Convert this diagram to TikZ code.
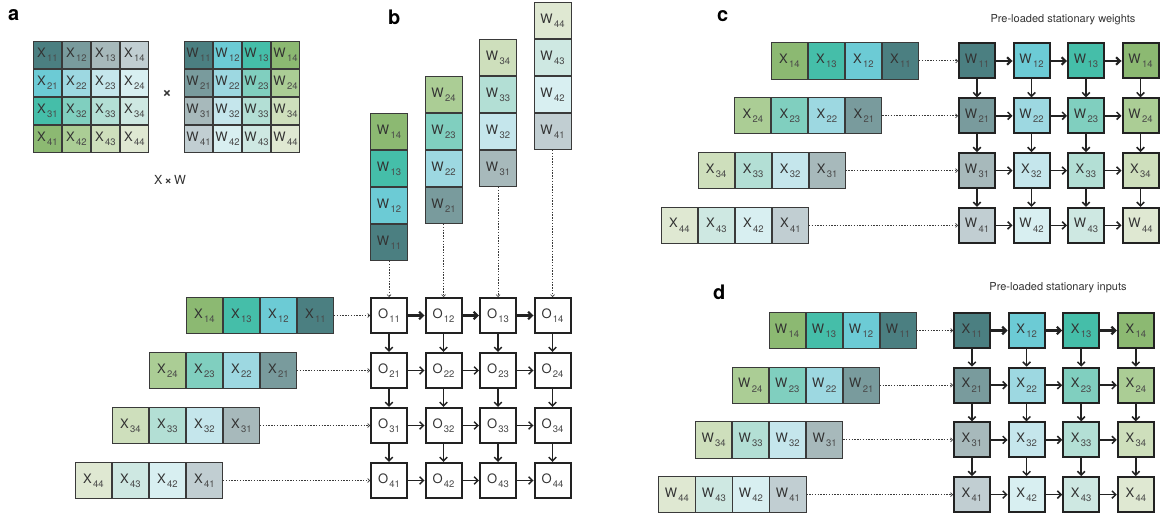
\documentclass[tikz,border=0pt]{standalone}
\usepackage{fontspec}
\setmainfont{TeX Gyre Heros}
\usetikzlibrary{arrows.meta}
% palette: c<hue><shade>, hue 1 slate, 2 cyan, 3 teal, 4 green; shade 1 strong .. 4 pale
\definecolor{c11}{HTML}{4B7F81}\definecolor{c12}{HTML}{799B9D}\definecolor{c13}{HTML}{A7B9BB}\definecolor{c14}{HTML}{C1CED2}
\definecolor{c21}{HTML}{6CCBD5}\definecolor{c22}{HTML}{9DD8E1}\definecolor{c23}{HTML}{C5E6EC}\definecolor{c24}{HTML}{D8EFF1}
\definecolor{c31}{HTML}{45BEA9}\definecolor{c32}{HTML}{80CFBF}\definecolor{c33}{HTML}{B3DFD5}\definecolor{c34}{HTML}{CEE8E2}
\definecolor{c41}{HTML}{8CB972}\definecolor{c42}{HTML}{ABCD95}\definecolor{c43}{HTML}{CEDFBC}\definecolor{c44}{HTML}{DFE8D2}
\definecolor{txt}{HTML}{333333}
\definecolor{subc}{HTML}{4A4A4A}
\definecolor{edge}{HTML}{3A3A3A}
\definecolor{pedge}{HTML}{222222}
\definecolor{dotc}{HTML}{3A3A3A}
\newcommand\lbl[2]{#1\kern1.3pt\raisebox{-4.3pt}{\fontsize{9.5}{10}\selectfont\color{subc}#2}}
\tikzset{
  cellfont/.style={font=\fontsize{13}{14}\selectfont, text=txt},
  mcell/.style={draw=edge, line width=0.9pt, minimum width=28.1pt, minimum height=27.1pt, inner sep=0pt, cellfont},
  scell/.style={draw=edge, line width=0.9pt, minimum width=36.1pt, minimum height=36.1pt, inner sep=0pt, cellfont},
  wcell/.style={draw=edge, line width=0.9pt, minimum width=37.1pt, minimum height=36.1pt, inner sep=0pt, cellfont},
  pe/.style={draw=pedge, line width=2pt, minimum width=36pt, minimum height=35pt, inner sep=0pt, cellfont},
  feed/.style={dash pattern=on 1.4pt off 1.4pt, line width=1pt, draw=dotc,
    -{Straight Barb[length=2pt,width=4pt,line width=0.7pt]}},
  flow/.style={line width=1.5pt, draw=pedge, -{Straight Barb[length=3.8pt,width=7.5pt]}},
  flowbold/.style={flow, line width=2.2pt},
  panel/.style={font=\fontsize{20}{20}\selectfont\bfseries, inner sep=0pt, anchor=base west},
  caption/.style={font=\fontsize{11}{12}\selectfont, text=txt, inner sep=0pt, anchor=base},
}
\begin{document}
\begin{tikzpicture}[x=1pt,y=-1pt]
\fill[white] (0,0) rectangle (1163,519);
\useasboundingbox (0,0) rectangle (1163,519);

% ---------- a: the two matrices ----------
\node[panel] (la) at (8,21) {a};
\foreach \i in {1,...,4}{
  \foreach \j in {1,...,4}{
    \node[mcell, fill=c\i\j] (ax\i\j) at ({47.5+29*(\j-1)},{55+28*(\i-1)}) {\lbl{X}{\i\j}};
    \node[mcell, fill=c\j\i] (aw\i\j) at ({198.5+29*(\j-1)},{55+28*(\i-1)}) {\lbl{W}{\i\j}};
  }
}
\node[font=\fontsize{16}{16}\selectfont\bfseries, text=txt, inner sep=0pt] (times) at (167,94) {×};
\node[font=\fontsize{12.5}{13}\selectfont, text=txt, inner sep=0pt] (prod) at (170,180) {X\,\textbf{×}\,W};

% ---------- b: output-stationary array ----------
\node[panel] (lb) at (388,25) {b};
\foreach \k in {1,...,4}{
  \foreach \m in {1,...,4}{
    \node[wcell, fill=c\m\k] (bw\k\m) at ({389+54.5*(\k-1)},{261-37*(\m-0.5)-37*(\k-1)}) {\lbl{W}{\k\m}};
  }
}
\foreach \r in {1,...,4}{
  \foreach \c in {1,...,4}{
    \node[pe, fill=white] (o\r\c) at ({389+54.5*(\c-1)},{315.5+55*(\r-1)}) {\lbl{O}{\r\c}};
  }
  \foreach \j in {1,...,4}{
    \node[scell, fill=c\j\r] (bx\r\j) at ({334-37*(\r-1)-18.5-37*(\j-1)},{315.5+55*(\r-1)}) {\lbl{X}{\r\j}};
  }
}
\foreach \r in {1,...,4}{ \draw[feed] (bx\r1.east) -- (o\r1.west); }
\foreach \k in {1,...,4}{ \draw[feed] (bw\k1.south) -- (o1\k.north); }
\foreach \r in {1,...,4}{
  \foreach \c/\n in {1/2,2/3,3/4}{
    \ifnum\r=1 \draw[flowbold] (o\r\c.east) -- (o\r\n.west);
    \else \draw[flow] (o\r\c.east) -- (o\r\n.west); \fi
  }
}
\foreach \r/\n in {1/2,2/3,3/4}{
  \foreach \c in {1,...,4}{ \draw[flow] (o\r\c.south) -- (o\n\c.north); }
}

% ---------- c: weight-stationary array ----------
\node[panel] (lc) at (717,22) {c};
\node[caption] (tc) at (1063,22.5) {Pre-loaded stationary weights};
\foreach \r in {1,...,4}{
  \foreach \c in {1,...,4}{
    \ifnum\r=3 \ifnum\c>1 \def\cellsym{X}\else \def\cellsym{W}\fi \else \def\cellsym{W}\fi
    \node[pe, fill=c\c\r] (cg\r\c) at ({977+54.5*(\c-1)},{61+54.8*(\r-1)}) {\lbl{\cellsym}{\r\c}};
  }
  \foreach \j in {1,...,4}{
    \node[scell, fill=c\j\r] (cs\r\j) at ({919-36.7*(\r-1)-18.5-37*(\j-1)},{61+54.8*(\r-1)}) {\lbl{X}{\r\j}};
  }
}
\foreach \r in {1,...,4}{ \draw[feed] (cs\r1.east) -- (cg\r1.west); }
\foreach \r in {1,...,4}{
  \foreach \c/\n in {1/2,2/3,3/4}{
    \ifnum\r=1 \draw[flowbold] (cg\r\c.east) -- (cg\r\n.west);
    \else \draw[flow] (cg\r\c.east) -- (cg\r\n.west); \fi
  }
}
\foreach \r/\n in {1/2,2/3,3/4}{
  \foreach \c in {1,...,4}{ \draw[flow] (cg\r\c.south) -- (cg\n\c.north); }
}

% ---------- d: input-stationary array ----------
\node[panel] (ld) at (713,299) {d};
\node[caption] (td) at (1058,290.5) {Pre-loaded stationary inputs};
\foreach \r in {1,...,4}{
  \foreach \c in {1,...,4}{
    \node[pe, fill=c\c\r] (dg\r\c) at ({972+54.6*(\c-1)},{330.5+54.7*(\r-1)}) {\lbl{X}{\r\c}};
  }
  \foreach \j in {1,...,4}{
    \node[scell, fill=c\j\r] (ds\r\j) at ({916.5-36.7*(\r-1)-18.5-37*(\j-1)},{330.5+54.7*(\r-1)}) {\lbl{W}{\r\j}};
  }
}
\foreach \r in {1,...,4}{ \draw[feed] (ds\r1.east) -- (dg\r1.west); }
\foreach \r in {1,...,4}{
  \foreach \c/\n in {1/2,2/3,3/4}{
    \ifnum\r=1 \draw[flowbold] (dg\r\c.east) -- (dg\r\n.west);
    \else \draw[flow] (dg\r\c.east) -- (dg\r\n.west); \fi
  }
}
\foreach \r/\n in {1/2,2/3,3/4}{
  \foreach \c in {1,...,4}{ \draw[flow] (dg\r\c.south) -- (dg\n\c.north); }
}
\end{tikzpicture}
\end{document}
